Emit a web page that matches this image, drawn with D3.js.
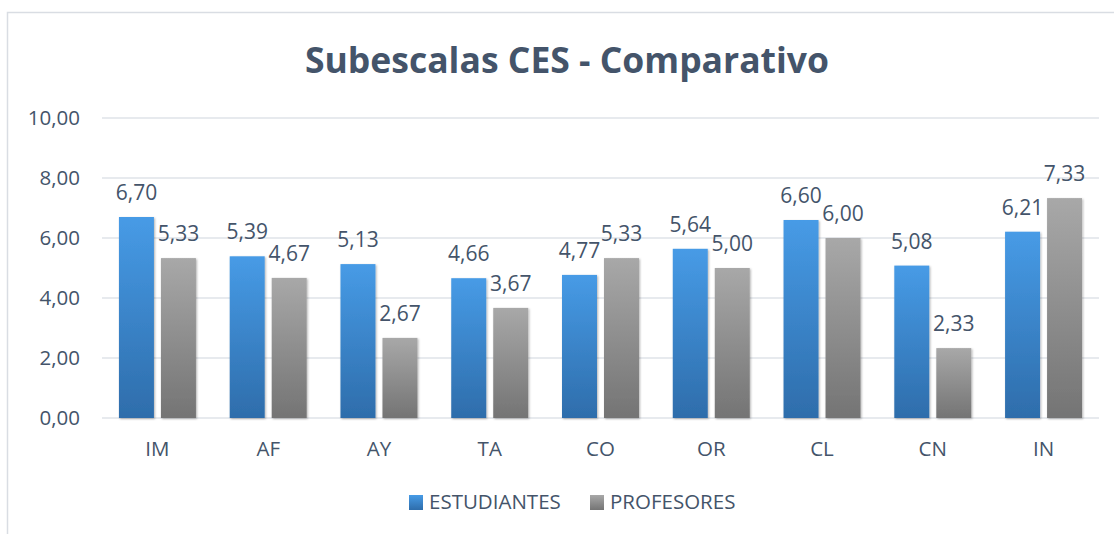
<!DOCTYPE html>
<html>
<head>
<meta charset="utf-8">
<script src="https://cdn.jsdelivr.net/npm/d3@7"></script>
<style>
  body { margin: 0; background: #fff; }
  text { font-family: "Open Sans", "Noto Sans", sans-serif; fill: #44546a; }
</style>
</head>
<body>
<div id="chart"></div>
<script>
var categories = ["IM", "AF", "AY", "TA", "CO", "OR", "CL", "CN", "IN"];
var estudiantes = [6.70, 5.39, 5.13, 4.66, 4.77, 5.64, 6.60, 5.08, 6.21];
var profesores = [5.33, 4.67, 2.67, 3.67, 5.33, 5.00, 6.00, 2.33, 7.33];
var seriesNames = ["ESTUDIANTES", "PROFESORES"];
var yTicks = [0, 2, 4, 6, 8, 10];

var W = 1114, H = 534;
var margin = {top: 118, right: 15, bottom: 116, left: 102};

var svg = d3.select("#chart").append("svg")
	.attr("width", W).attr("height", H);

var defs = svg.append("defs");
var grads = [["gBlue", "#479be6", "#2e6dab"], ["gGray", "#a8a8a8", "#747474"]];
grads.forEach(function(g){
	var lg = defs.append("linearGradient").attr("id", g[0])
		.attr("x1", 0).attr("y1", 0).attr("x2", 0).attr("y2", 1);
	lg.append("stop").attr("offset", "0%").attr("stop-color", g[1]);
	lg.append("stop").attr("offset", "100%").attr("stop-color", g[2]);
});
var sh = defs.append("filter").attr("id", "shadow")
	.attr("x", "-20%").attr("y", "-5%").attr("width", "140%").attr("height", "110%");
sh.append("feDropShadow").attr("dx", 1).attr("dy", 1).attr("stdDeviation", 1.2)
	.attr("flood-color", "#000").attr("flood-opacity", 0.3);

// outer frame
svg.append("rect").attr("x", 7.5).attr("y", 12.5)
	.attr("width", W + 10).attr("height", H + 10)
	.attr("fill", "none").attr("stroke", "#d9dde3").attr("stroke-width", 1.5);

var iw = W - margin.left - margin.right, ih = H - margin.top - margin.bottom;
var g = svg.append("g").attr("transform", "translate(" + margin.left + "," + margin.top + ")");

var x = d3.scaleBand().domain(categories).range([0, iw]).paddingInner(0.305).paddingOuter(0.153);
var xs = d3.scaleBand().domain(seriesNames).range([0, x.bandwidth()]).paddingInner(0.167);
var y = d3.scaleLinear().domain([0, 10]).range([ih, 0]);

var fmt = function(v){ return d3.format(".2f")(v).replace(".", ","); };

// gridlines
g.selectAll(".grid").data(yTicks).enter().append("line")
	.attr("x1", 0).attr("x2", iw)
	.attr("y1", function(d){ return y(d); }).attr("y2", function(d){ return y(d); })
	.attr("stroke", "#dfe3e8").attr("stroke-width", 1.5);

// y labels
g.selectAll(".ylab").data(yTicks).enter().append("text")
	.attr("x", -22).attr("y", function(d){ return y(d); })
	.attr("dy", "0.35em").attr("text-anchor", "end")
	.style("font-size", "20.5px")
	.text(fmt);

// x labels
g.selectAll(".xlab").data(categories).enter().append("text")
	.attr("x", function(d){ return x(d) + x.bandwidth() / 2; })
	.attr("y", ih + 38)
	.attr("text-anchor", "middle").style("font-size", "20.5px")
	.text(function(d){ return d; });

var series = [
	{name: seriesNames[0], values: estudiantes, fill: "url(#gBlue)"},
	{name: seriesNames[1], values: profesores, fill: "url(#gGray)"}
];

series.forEach(function(s){
	var grp = g.append("g");
	grp.selectAll("rect").data(s.values).enter().append("rect")
		.attr("x", function(d, i){ return x(categories[i]) + xs(s.name); })
		.attr("y", function(d){ return y(d); })
		.attr("width", xs.bandwidth())
		.attr("height", function(d){ return ih - y(d); })
		.attr("fill", s.fill)
		.attr("filter", "url(#shadow)");
	grp.selectAll("text").data(s.values).enter().append("text")
		.attr("x", function(d, i){ return x(categories[i]) + xs(s.name) + xs.bandwidth() / 2; })
		.attr("y", function(d){ return y(d) - 17; })
		.attr("text-anchor", "middle").style("font-size", "21px")
		.text(fmt);
});

// title
svg.append("text").attr("x", 567).attr("y", 73)
	.attr("text-anchor", "middle")
	.style("font-size", "35.5px").style("font-weight", "bold")
	.text("Subescalas CES - Comparativo");

// legend
var legend = svg.append("g").attr("transform", "translate(409,502)");
var lx = [0, 181];
series.forEach(function(s, i){
	var lg = legend.append("g").attr("transform", "translate(" + lx[i] + ",0)");
	lg.append("rect").attr("x", 0).attr("y", -7).attr("width", 14).attr("height", 15).attr("fill", s.fill);
	lg.append("text").attr("x", 20).attr("y", 0).attr("dy", "0.35em")
		.style("font-size", "20.5px").text(s.name);
});
</script>
</body>
</html>
